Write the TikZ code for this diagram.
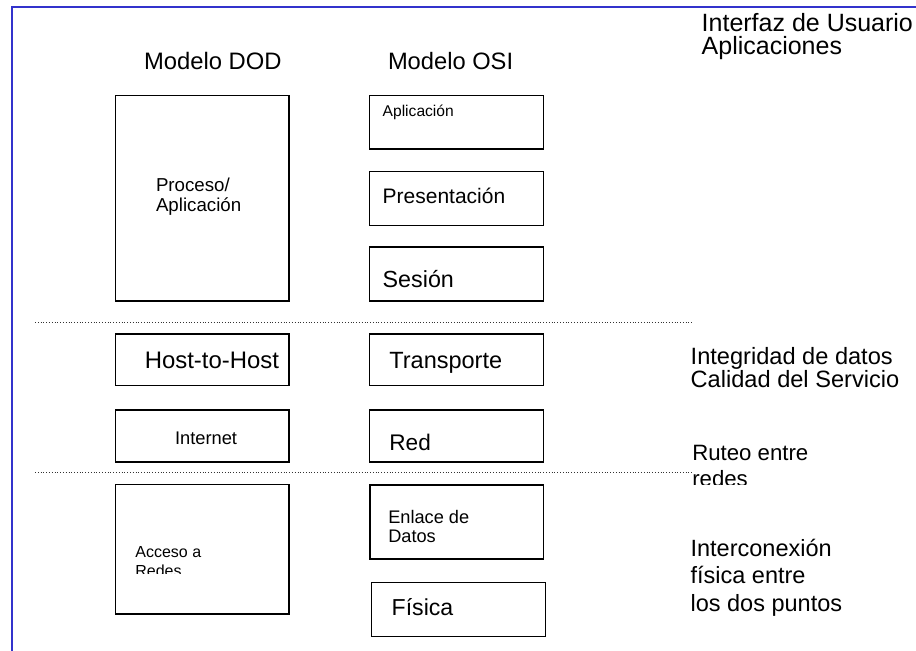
\documentclass[tikz,border=0pt]{standalone}
\usepackage{fontspec}
\setmainfont{Liberation Sans}
\newcommand\myfs[1]{\fontsize{#1bp}{#1bp}\selectfont}
\definecolor{frameblue}{RGB}{51,51,204}
\begin{document}
\begin{tikzpicture}[x=1bp,y=-1bp,
  box/.style={draw=black,line width=1.3bp,inner sep=0pt,outer sep=0pt,rectangle},
  txt/.style={inner sep=0pt,outer sep=0pt,anchor=base west,text=black},
  sep/.style={draw=black!80,line width=0.8bp,dotted}]
\useasboundingbox (0,0) rectangle (916,651);
% frame
\coordinate (fA) at (11.5,651);
\coordinate (fB) at (11.5,7);
\coordinate (fC) at (916,7);
\draw[frameblue,line width=2bp] (fA) -- (fB) -- (fC);
% headings
\node[txt] (hdod) at (144,70) {\myfs{23.8}Modelo DOD};
\node[txt] (hosi) at (388,69.3) {\myfs{23.7}Modelo OSI};
\node[txt] (ui1) at (701.7,31.7) {\myfs{25}Interfaz de Usuario};
\node[txt] (ui2) at (701.7,55) {\myfs{25}Aplicaciones};
% DOD boxes
\node[box,minimum width=173.5bp,minimum height=205.5bp] (dodA) at (202.25,198.25) {};
\node[box,minimum width=173.5bp,minimum height=51.5bp] (dodB) at (202.25,359.75) {};
\node[box,minimum width=173.5bp,minimum height=52bp] (dodC) at (202.25,436) {};
\node[box,minimum width=173.5bp,minimum height=129.5bp] (dodD) at (202.25,549.25) {};
% OSI boxes
\node[box,minimum width=174bp,minimum height=53.5bp] (osiA) at (456.5,122.25) {};
\node[box,minimum width=174bp,minimum height=54bp] (osiB) at (456.5,198.5) {};
\node[box,minimum width=174bp,minimum height=54bp] (osiC) at (456.5,274) {};
\node[box,minimum width=174bp,minimum height=51.5bp] (osiD) at (456.5,359.75) {};
\node[box,minimum width=174bp,minimum height=52bp] (osiE) at (456.5,436) {};
\node[box,minimum width=173.5bp,minimum height=74bp] (osiF) at (456.75,522) {};
\node[box,minimum width=174bp,minimum height=54bp] (osiG) at (458.5,609.5) {};
% box texts
\node[txt] (tproc1) at (156,191.7) {\myfs{18.7}Proceso/};
\node[txt] (tproc2) at (156,211.7) {\myfs{18.7}Aplicación};
\node[txt] (tapl) at (382.7,117) {\myfs{15.6}Aplicación};
\node[txt] (tpres) at (382.7,203.3) {\myfs{21}Presentación};
\node[txt] (tses) at (382.7,287.3) {\myfs{23.3}Sesión};
\node[txt] (thost) at (144.8,368.3) {\myfs{23.9}Host-to-Host};
\node[txt] (ttrans) at (389.4,368.3) {\myfs{23.5}Transporte};
\node[txt] (tinet) at (175,444) {\myfs{18.3}Internet};
\node[txt] (tred) at (389.4,450.7) {\myfs{22.6}Red};
\node[txt] (tacc1) at (135.4,557.3) {\myfs{16}Acceso a};
\begin{scope}
\clip (120,560) rectangle (285,573.3);
\node[txt] (tacc2) at (135.4,576) {\myfs{16}Redes};
\end{scope}
\node[txt] (tenl1) at (388.3,523.3) {\myfs{18.2}Enlace de};
\node[txt] (tenl2) at (388.3,542.7) {\myfs{18.2}Datos};
\node[txt] (tfis) at (391.7,615.7) {\myfs{23.1}Física};
% right-hand notes
\node[txt] (nint1) at (690.7,364.3) {\myfs{23.6}Integridad de datos};
\node[txt] (nint2) at (690.7,387.3) {\myfs{23.6}Calidad del Servicio};
\node[txt] (nrut1) at (692.3,460.7) {\myfs{22.2}Ruteo entre};
\begin{scope}
\clip (680,466) rectangle (800,484);
\node[txt] (nrut2) at (692.3,486) {\myfs{22.2}redes};
\end{scope}
\node[txt] (nfis1) at (690.6,556.7) {\myfs{23.5}Interconexión};
\node[txt] (nfis2) at (690.6,583.3) {\myfs{23.5}física entre};
\node[txt] (nfis3) at (690.6,611.7) {\myfs{23.5}los dos puntos};
% dotted separators
\coordinate (s1a) at (35,322.7);
\coordinate (s1b) at (692,322.7);
\coordinate (s2a) at (35,472.7);
\coordinate (s2b) at (692,472.7);
\draw[sep] (s1a) -- (s1b);
\draw[sep] (s2a) -- (s2b);
\end{tikzpicture}
\end{document}
